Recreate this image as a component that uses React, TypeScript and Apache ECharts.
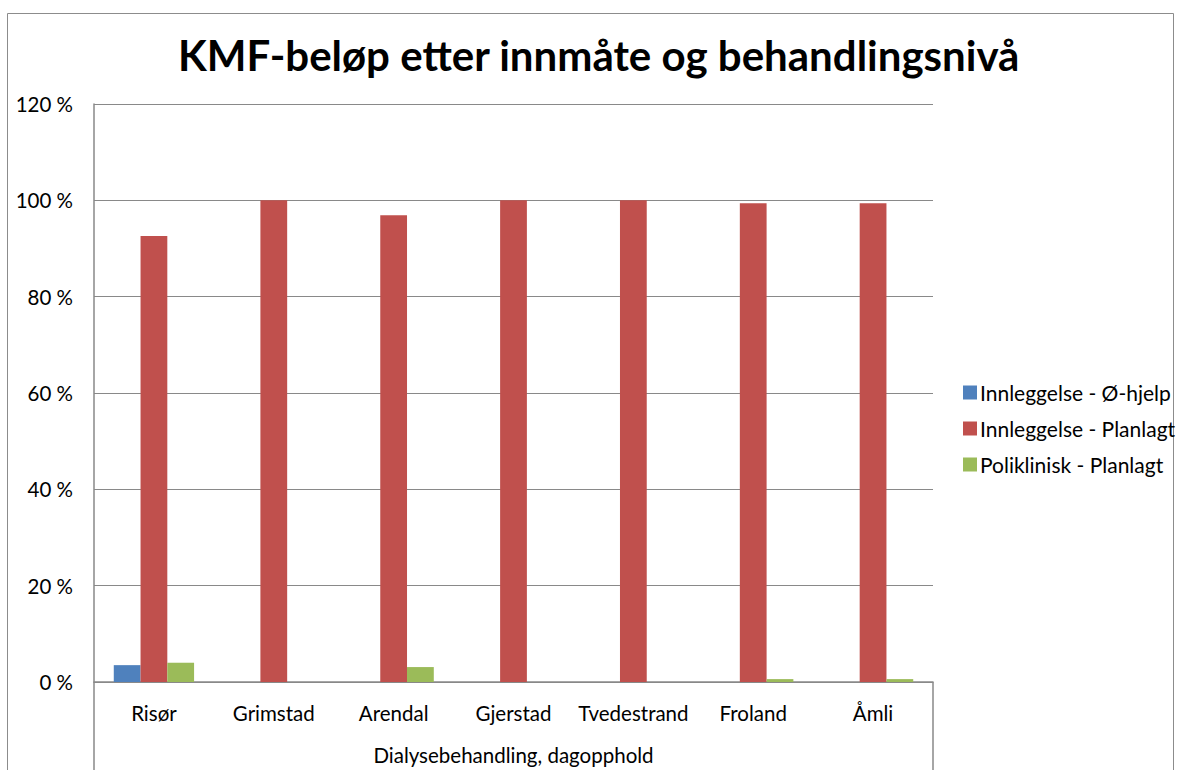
import React, { useEffect, useRef } from "react";
import * as echarts from "echarts";

const categories = ["Risør", "Grimstad", "Arendal", "Gjerstad", "Tvedestrand", "Froland", "Åmli"];
const seriesNames = ["Innleggelse - Ø-hjelp", "Innleggelse - Planlagt", "Poliklinisk - Planlagt"];
const oHjelp = [3.5, 0, 0, 0, 0, 0, 0];
const innPlanlagt = [92.6, 100, 96.9, 100, 100, 99.4, 99.4];
const polPlanlagt = [4.0, 0, 3.1, 0, 0, 0.6, 0.6];
const colors = ["#4F81BD", "#C0504D", "#9BBB59"];
const groupLabel = "Dialysebehandling, dagopphold";
const title = "KMF-beløp etter innmåte og behandlingsnivå";

const W = 1179;
const H = 770;
const GL = 94;
const GT = 104;
const GR = 933;
const GB = 682;
const FONT = "Lato, 'Open Sans', sans-serif";

export default function App() {
  const ref = useRef<HTMLDivElement>(null);
  useEffect(() => {
    if (!ref.current) return;
    const chart = echarts.init(ref.current, undefined, { renderer: "svg" });
    const gray = "#898989";
    chart.setOption({
      animation: false,
      backgroundColor: "#ffffff",
      textStyle: { fontFamily: FONT, color: "#000" },
      title: {
        text: title,
        left: 173,
        top: 29,
        textStyle: { fontFamily: FONT, fontSize: 42, fontWeight: "bold", color: "#000" },
      },
      legend: {
        orient: "vertical",
        left: 958,
        top: 377,
        itemWidth: 14,
        itemHeight: 14,
        itemGap: 15,
        icon: "rect",
        textStyle: { fontFamily: FONT, fontSize: 21, color: "#000", padding: [0, 0, 0, -2] },
        data: seriesNames,
      },
      grid: { left: GL, top: GT, right: W - GR, bottom: H - GB, containLabel: false },
      xAxis: {
        type: "category",
        data: categories,
        axisLine: { lineStyle: { color: gray, width: 1.5 } },
        axisTick: { show: false },
        axisLabel: { fontFamily: FONT, fontSize: 20.5, color: "#000", margin: 20, interval: 0 },
        name: groupLabel,
        nameLocation: "middle",
        nameGap: 62,
        nameTextStyle: { fontFamily: FONT, fontSize: 20.5, color: "#000" },
      },
      yAxis: {
        type: "value",
        min: 0,
        max: 120,
        interval: 20,
        axisLine: { show: true, lineStyle: { color: gray, width: 1.5 } },
        axisTick: { show: false },
        splitLine: { lineStyle: { color: gray, width: 1 } },
        axisLabel: { fontFamily: FONT, fontSize: 20.5, color: "#000", margin: 21, formatter: "{value} %" },
      },
      series: [oHjelp, innPlanlagt, polPlanlagt].map((d, i) => ({
        name: seriesNames[i],
        type: "bar",
        data: d,
        barGap: "0%",
        barCategoryGap: "33%",
        itemStyle: { color: colors[i] },
      })),
      graphic: [
        { type: "rect", shape: { x: 7.5, y: 13.5, width: 1166, height: 800 }, style: { fill: "none", stroke: "#8c8c8c", lineWidth: 1 }, silent: true },
        { type: "line", shape: { x1: GL, y1: GB, x2: GL, y2: H }, style: { stroke: gray, lineWidth: 1.5 } },
        { type: "line", shape: { x1: GR, y1: GB, x2: GR, y2: H }, style: { stroke: gray, lineWidth: 1.5 } },
      ],
    });
    return () => chart.dispose();
  }, []);
  return <div ref={ref} style={{ position: "fixed", left: 0, top: 0, width: W, height: H }} />;
}
